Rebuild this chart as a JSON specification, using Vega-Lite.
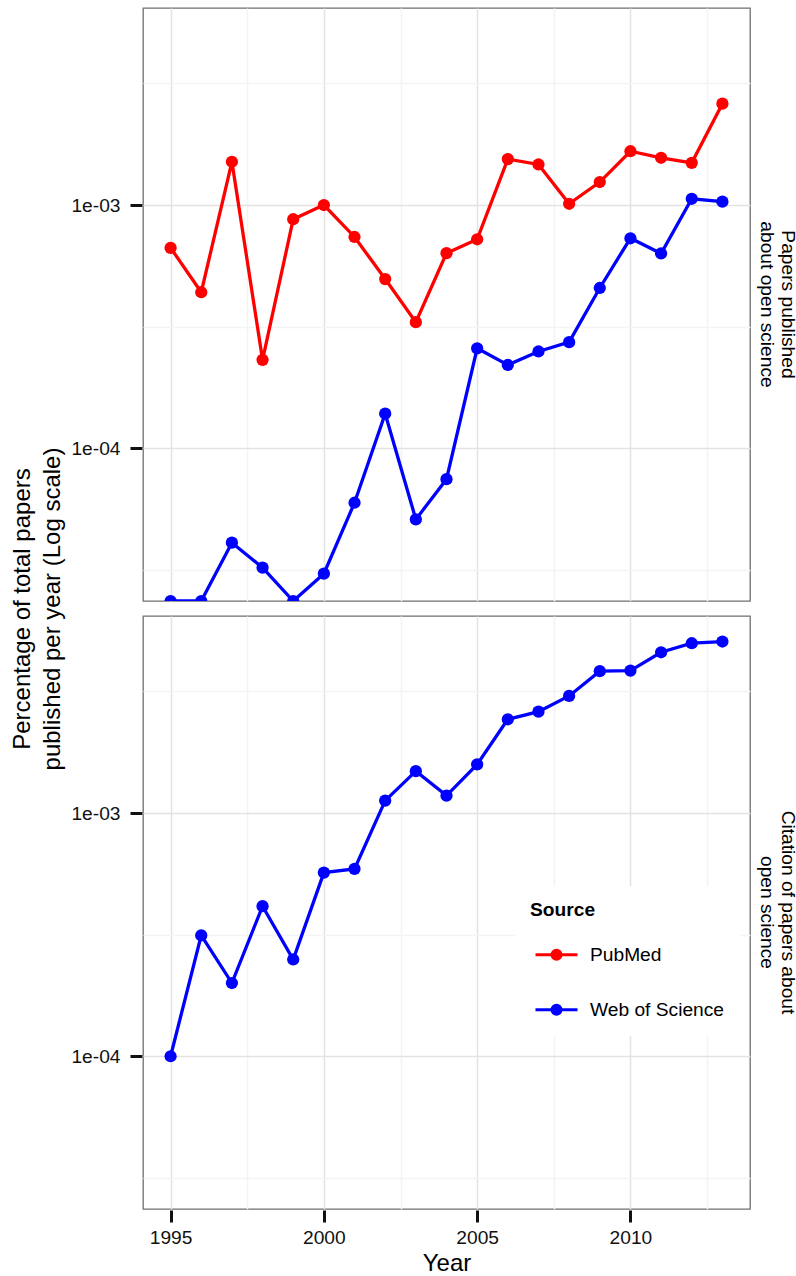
{
  "$schema": "https://vega.github.io/schema/vega-lite/v6.json",
  "background": "white",
  "padding": {"left": 10, "top": 7, "right": 0, "bottom": 0},
  "config": {
    "font": "Liberation Sans",
    "view": {"stroke": "#6f6f6f", "strokeWidth": 1.3},
    "header": {
      "labelOrient": "right",
      "labelAngle": 90,
      "labelAlign": "center",
      "labelBaseline": "bottom",
      "labelFontSize": 19.2,
      "labelLineHeight": 21,
      "labelPadding": -13,
      "labelColor": "black",
      "titleOrient": "left",
      "titleAngle": -90,
      "titleBaseline": "bottom",
      "titleFontSize": 24,
      "titleFontWeight": "normal",
      "titleLineHeight": 30,
      "titlePadding": -29,
      "titleColor": "black"
    },
    "legend": {
      "orient": "none",
      "legendX": 372,
      "legendY": 878,
      "titleFontSize": 19.2,
      "titleFontWeight": "bold",
      "titleColor": "black",
      "labelFontSize": 19.2,
      "labelColor": "black",
      "symbolSize": 1764,
      "symbolStrokeWidth": 3,
      "labelOffset": 11,
      "rowPadding": 21,
      "titlePadding": 12,
      "padding": 15,
      "fillColor": "white",
      "symbolOffset": 4
    }
  },
  "data": {
    "values": [
      {"year": 1995, "value": 6.67e-4, "source": "PubMed", "panel": "Papers published about open science"},
      {"year": 1996, "value": 4.38e-4, "source": "PubMed", "panel": "Papers published about open science"},
      {"year": 1997, "value": 1.506e-3, "source": "PubMed", "panel": "Papers published about open science"},
      {"year": 1998, "value": 2.31e-4, "source": "PubMed", "panel": "Papers published about open science"},
      {"year": 1999, "value": 8.74e-4, "source": "PubMed", "panel": "Papers published about open science"},
      {"year": 2000, "value": 1.0e-3, "source": "PubMed", "panel": "Papers published about open science"},
      {"year": 2001, "value": 7.39e-4, "source": "PubMed", "panel": "Papers published about open science"},
      {"year": 2002, "value": 4.96e-4, "source": "PubMed", "panel": "Papers published about open science"},
      {"year": 2003, "value": 3.30e-4, "source": "PubMed", "panel": "Papers published about open science"},
      {"year": 2004, "value": 6.34e-4, "source": "PubMed", "panel": "Papers published about open science"},
      {"year": 2005, "value": 7.23e-4, "source": "PubMed", "panel": "Papers published about open science"},
      {"year": 2006, "value": 1.545e-3, "source": "PubMed", "panel": "Papers published about open science"},
      {"year": 2007, "value": 1.468e-3, "source": "PubMed", "panel": "Papers published about open science"},
      {"year": 2008, "value": 1.012e-3, "source": "PubMed", "panel": "Papers published about open science"},
      {"year": 2009, "value": 1.243e-3, "source": "PubMed", "panel": "Papers published about open science"},
      {"year": 2010, "value": 1.664e-3, "source": "PubMed", "panel": "Papers published about open science"},
      {"year": 2011, "value": 1.564e-3, "source": "PubMed", "panel": "Papers published about open science"},
      {"year": 2012, "value": 1.491e-3, "source": "PubMed", "panel": "Papers published about open science"},
      {"year": 2013, "value": 2.61e-3, "source": "PubMed", "panel": "Papers published about open science"},
      {"year": 1995, "value": 2.355e-5, "source": "Web of Science", "panel": "Papers published about open science"},
      {"year": 1996, "value": 2.355e-5, "source": "Web of Science", "panel": "Papers published about open science"},
      {"year": 1997, "value": 4.09e-5, "source": "Web of Science", "panel": "Papers published about open science"},
      {"year": 1998, "value": 3.23e-5, "source": "Web of Science", "panel": "Papers published about open science"},
      {"year": 1999, "value": 2.355e-5, "source": "Web of Science", "panel": "Papers published about open science"},
      {"year": 2000, "value": 3.05e-5, "source": "Web of Science", "panel": "Papers published about open science"},
      {"year": 2001, "value": 5.97e-5, "source": "Web of Science", "panel": "Papers published about open science"},
      {"year": 2002, "value": 1.387e-4, "source": "Web of Science", "panel": "Papers published about open science"},
      {"year": 2003, "value": 5.10e-5, "source": "Web of Science", "panel": "Papers published about open science"},
      {"year": 2004, "value": 7.46e-5, "source": "Web of Science", "panel": "Papers published about open science"},
      {"year": 2005, "value": 2.576e-4, "source": "Web of Science", "panel": "Papers published about open science"},
      {"year": 2006, "value": 2.20e-4, "source": "Web of Science", "panel": "Papers published about open science"},
      {"year": 2007, "value": 2.50e-4, "source": "Web of Science", "panel": "Papers published about open science"},
      {"year": 2008, "value": 2.73e-4, "source": "Web of Science", "panel": "Papers published about open science"},
      {"year": 2009, "value": 4.56e-4, "source": "Web of Science", "panel": "Papers published about open science"},
      {"year": 2010, "value": 7.30e-4, "source": "Web of Science", "panel": "Papers published about open science"},
      {"year": 2011, "value": 6.32e-4, "source": "Web of Science", "panel": "Papers published about open science"},
      {"year": 2012, "value": 1.061e-3, "source": "Web of Science", "panel": "Papers published about open science"},
      {"year": 2013, "value": 1.032e-3, "source": "Web of Science", "panel": "Papers published about open science"},
      {"year": 1995, "value": 1.0e-4, "source": "Web of Science", "panel": "Citation of papers about open science"},
      {"year": 1996, "value": 3.14e-4, "source": "Web of Science", "panel": "Citation of papers about open science"},
      {"year": 1997, "value": 2.0e-4, "source": "Web of Science", "panel": "Citation of papers about open science"},
      {"year": 1998, "value": 4.14e-4, "source": "Web of Science", "panel": "Citation of papers about open science"},
      {"year": 1999, "value": 2.50e-4, "source": "Web of Science", "panel": "Citation of papers about open science"},
      {"year": 2000, "value": 5.69e-4, "source": "Web of Science", "panel": "Citation of papers about open science"},
      {"year": 2001, "value": 5.89e-4, "source": "Web of Science", "panel": "Citation of papers about open science"},
      {"year": 2002, "value": 1.124e-3, "source": "Web of Science", "panel": "Citation of papers about open science"},
      {"year": 2003, "value": 1.486e-3, "source": "Web of Science", "panel": "Citation of papers about open science"},
      {"year": 2004, "value": 1.179e-3, "source": "Web of Science", "panel": "Citation of papers about open science"},
      {"year": 2005, "value": 1.584e-3, "source": "Web of Science", "panel": "Citation of papers about open science"},
      {"year": 2006, "value": 2.429e-3, "source": "Web of Science", "panel": "Citation of papers about open science"},
      {"year": 2007, "value": 2.61e-3, "source": "Web of Science", "panel": "Citation of papers about open science"},
      {"year": 2008, "value": 3.03e-3, "source": "Web of Science", "panel": "Citation of papers about open science"},
      {"year": 2009, "value": 3.83e-3, "source": "Web of Science", "panel": "Citation of papers about open science"},
      {"year": 2010, "value": 3.85e-3, "source": "Web of Science", "panel": "Citation of papers about open science"},
      {"year": 2011, "value": 4.58e-3, "source": "Web of Science", "panel": "Citation of papers about open science"},
      {"year": 2012, "value": 4.99e-3, "source": "Web of Science", "panel": "Citation of papers about open science"},
      {"year": 2013, "value": 5.07e-3, "source": "Web of Science", "panel": "Citation of papers about open science"}
    ]
  },
  "facet": {
    "row": {
      "field": "panel",
      "type": "nominal",
      "sort": ["Papers published about open science", "Citation of papers about open science"],
      "title": ["Percentage of total papers", "published per year (Log scale)"],
      "header": {
        "labelExpr": "datum.value == 'Papers published about open science' ? ['Papers published', 'about open science'] : ['Citation of papers about', 'open science']"
      }
    }
  },
  "spacing": {"row": 13},
  "spec": {
    "width": 607,
    "height": 593,
    "encoding": {
      "x": {
        "field": "year",
        "type": "quantitative",
        "scale": {"domain": [1994.1, 2013.9], "nice": false, "zero": false},
        "axis": {
          "title": "Year",
          "values": [1995, 1997.5, 2000, 2002.5, 2005, 2007.5, 2010, 2012.5],
          "labelExpr": "datum.value % 5 == 0 ? toString(datum.value) : ''",
          "labelOverlap": false,
          "labelFlush": false,
          "labelFontSize": 19.2,
          "labelColor": "#111111",
          "labelPadding": 6,
          "tickSize": 12,
          "tickWidth": 3,
          "tickColor": {"condition": {"test": "datum.value % 5 == 0", "value": "#111111"}, "value": "transparent"},
          "domain": false,
          "gridWidth": 1.5,
          "gridColor": {"condition": {"test": "datum.value % 5 == 0", "value": "#E3E3E3"}, "value": "#F4F4F4"},
          "titleFontSize": 24,
          "titleFontWeight": "normal",
          "titleColor": "black",
          "titlePadding": 4
        }
      },
      "y": {
        "field": "value",
        "type": "quantitative",
        "scale": {"type": "log", "domain": [2.355e-5, 6.457e-3], "nice": false},
        "axis": {
          "title": null,
          "values": [3.1623e-5, 0.0001, 3.1623e-4, 0.001, 3.1623e-3],
          "labelExpr": "datum.value == 0.001 ? '1e-03' : datum.value == 0.0001 ? '1e-04' : ''",
          "labelOverlap": false,
          "labelFlush": false,
          "labelFontSize": 19.2,
          "labelColor": "#111111",
          "labelPadding": 10,
          "tickSize": 12,
          "tickWidth": 3,
          "tickColor": {"condition": {"test": "datum.value == 0.001 || datum.value == 0.0001", "value": "#111111"}, "value": "transparent"},
          "domain": false,
          "gridWidth": 1.5,
          "gridColor": {"condition": {"test": "datum.value == 0.001 || datum.value == 0.0001", "value": "#E3E3E3"}, "value": "#F4F4F4"}
        }
      },
      "color": {
        "field": "source",
        "type": "nominal",
        "scale": {"domain": ["PubMed", "Web of Science"], "range": ["#FF0000", "#0000FF"]},
        "legend": {
          "title": "Source",
          "symbolType": "M-1,0H1M0.2143,0A0.2143,0.2143,0,1,1,-0.2143,0A0.2143,0.2143,0,1,1,0.2143,0M0.0714,0A0.0714,0.0714,0,1,1,-0.0714,0A0.0714,0.0714,0,1,1,0.0714,0"
        }
      }
    },
    "layer": [
      {"mark": {"type": "line", "strokeWidth": 3.3, "clip": true}, "encoding": {}},
      {"mark": {"type": "point", "filled": true, "size": 150, "opacity": 1, "clip": true}}
    ]
  }
}
